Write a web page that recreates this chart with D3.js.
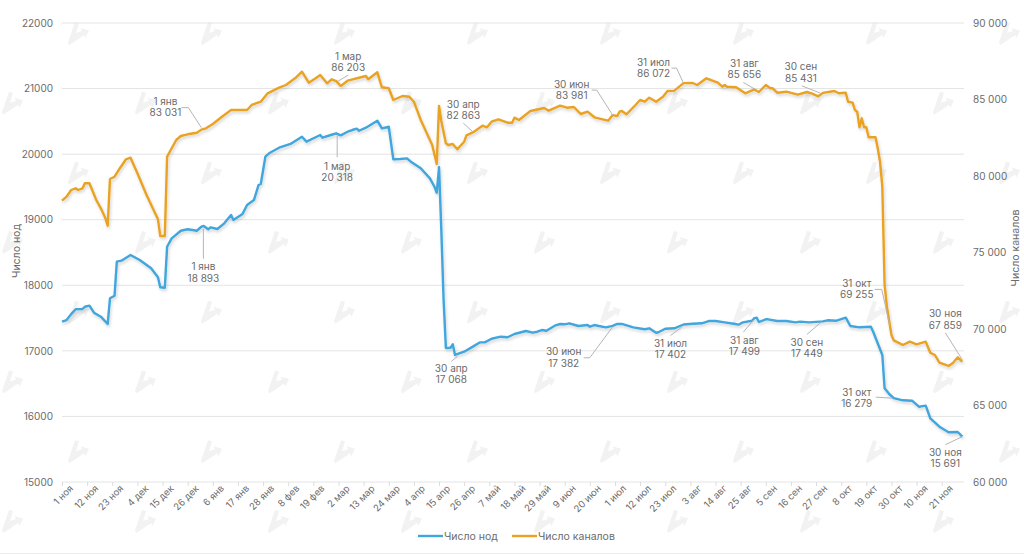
<!DOCTYPE html>
<html>
<head>
<meta charset="utf-8">
<script src="https://cdnjs.cloudflare.com/ajax/libs/d3/7.8.5/d3.min.js"></script>
<style>
  html, body { margin: 0; padding: 0; background: #fff; overflow: hidden; }
  text { font-family: Inter, "Noto Sans", sans-serif; fill: #6b6b6b; }
</style>
</head>
<body>
<script>
// days are counted from 1 Nov
const tickLabels = ['1 ноя', '12 ноя', '23 ноя', '4 дек', '15 дек', '26 дек', '6 янв', '17 янв', '28 янв',
  '8 фев', '19 фев', '2 мар', '13 мар', '24 мар', '4 апр', '15 апр', '26 апр', '7 май', '18 май', '29 май',
  '9 июн', '20 июн', '1 июл', '12 июл', '23 июл', '3 авг', '14 авг', '25 авг', '5 сен', '16 сен', '27 сен',
  '8 окт', '19 окт', '30 окт', '10 ноя', '21 ноя'];
const nodeTicks = [15000, 16000, 17000, 18000, 19000, 20000, 21000, 22000];
const channelTicks = [60000, 65000, 70000, 75000, 80000, 85000, 90000];

const nodeDays = [0, 2, 4, 6, 9, 10, 12, 14, 17, 20, 21, 23, 24, 26, 30, 34, 39, 42, 43, 45, 46, 48, 52, 55, 59, 61,
  62, 64, 65, 68, 71, 74, 75, 79, 81, 84, 86, 87, 89, 91, 95, 100, 105, 107, 111, 113, 114, 118, 120, 122, 125, 127,
  129, 130, 133, 138, 140, 143, 145, 148, 151, 153, 157, 161, 163, 164, 165, 166, 167, 168, 170, 171, 172, 176, 180,
  183, 185, 188, 192, 195, 198, 203, 206, 208, 210, 212, 216, 218, 220, 222, 226, 230, 231, 233, 235, 238, 241, 243,
  245, 250, 255, 257, 260, 261, 264, 268, 272, 276, 280, 283, 286, 290, 294, 296, 298, 302, 303, 304, 305, 308, 309,
  313, 317, 321, 323, 327, 333, 335, 339, 343, 345, 349, 354, 355, 359, 360, 362, 364, 368, 372, 375, 378, 380, 384,
  388, 392, 394];
const nodeValues = [17445, 17470, 17560, 17634, 17638, 17673, 17689, 17582, 17521, 17410, 17801, 17841, 18360, 18375,
  18462, 18386, 18259, 18122, 17969, 17963, 18588, 18716, 18832, 18854, 18832, 18893, 18904, 18854, 18884, 18858,
  18945, 19072, 18996, 19087, 19224, 19300, 19529, 19545, 19961, 20022, 20098, 20155, 20266, 20190, 20257, 20292,
  20251, 20296, 20318, 20287, 20342, 20368, 20388, 20357, 20403, 20510, 20394, 20418, 19921, 19926, 19936, 19875,
  19784, 19631, 19503, 19412, 19800, 18843, 17775, 17044, 17048, 17100, 16937, 16987, 17068, 17130, 17130, 17185,
  17216, 17207, 17257, 17303, 17277, 17292, 17318, 17307, 17390, 17410, 17405, 17420, 17379, 17394, 17368, 17394,
  17379, 17359, 17382, 17410, 17410, 17359, 17329, 17344, 17277, 17283, 17338, 17344, 17402, 17414, 17420, 17455,
  17455, 17435, 17414, 17399, 17435, 17460, 17499, 17506, 17440, 17481, 17481, 17455, 17455, 17435, 17445, 17435,
  17449, 17466, 17460, 17506, 17379, 17359, 17368, 17292, 16937, 16429, 16342, 16279, 16246, 16240, 16148, 16164,
  15971, 15843, 15758, 15763, 15691];

const channelDays = [0, 2, 4, 6, 7, 9, 10, 12, 15, 17, 19, 20, 21, 23, 25, 26, 28, 30, 33, 37, 42, 43, 45, 46, 48, 50,
  52, 55, 59, 61, 63, 66, 70, 74, 81, 83, 87, 90, 95, 98, 102, 105, 108, 111, 113, 116, 118, 120, 122, 125, 133, 134,
  138, 140, 143, 145, 149, 152, 154, 157, 162, 164, 165, 166, 168, 169, 171, 173, 176, 177, 180, 184, 186, 188, 191,
  195, 197, 198, 200, 205, 211, 213, 218, 221, 224, 227, 230, 233, 239, 241, 243, 244, 245, 247, 251, 253, 255, 257,
  260, 263, 265, 268, 272, 276, 278, 282, 287, 289, 290, 291, 295, 299, 303, 305, 308, 310, 311, 313, 317, 322, 326,
  328, 331, 333, 338, 340, 343, 344, 346, 347, 348, 349, 350, 351, 352, 353, 356, 357, 358, 359, 360, 361, 363, 364,
  368, 371, 374, 378, 380, 382, 384, 388, 390, 392, 394];
const channelValues = [78386, 78647, 79085, 79196, 79085, 79196, 79523, 79523, 78432, 77889, 77235, 76752, 79804,
  79954, 80438, 80654, 81092, 81196, 80177, 78758, 77170, 76079, 76079, 81262, 81811, 82353, 82615, 82726, 82830,
  83031, 83118, 83399, 83876, 84314, 84314, 84641, 84856, 85405, 85772, 85948, 86386, 86817, 86098, 86386, 86602,
  86059, 86320, 86203, 85883, 86229, 86536, 86320, 86778, 85798, 85732, 84968, 85229, 85183, 84856, 83660, 82026,
  80784, 84575, 83595, 82137, 82026, 82092, 81745, 82242, 82660, 82863, 83288, 83183, 83549, 83706, 83484, 83484,
  83811, 83660, 84249, 84445, 84268, 84595, 84464, 84510, 84052, 84203, 83837, 83614, 83981, 83922, 84203, 84249,
  84033, 84641, 84968, 84856, 85118, 84856, 85183, 85556, 85575, 86072, 86079, 85948, 86386, 86098, 85837, 85948,
  85837, 85798, 85405, 85656, 85490, 85948, 85732, 85732, 85444, 85510, 85314, 85490, 85405, 85209, 85431, 85556,
  85405, 85444, 84856, 84791, 84314, 84203, 83183, 83771, 83183, 83183, 82530, 82530, 81811, 80935, 79301, 72876,
  71458, 69608, 69255, 68954, 69170, 69000, 69170, 68451, 68301, 67797, 67582, 67797, 68150, 67859];

const calloutDays = [61, 120, 180, 241, 272, 303, 333, 364, 394];
const calloutDates = ['1 янв', '1 мар', '30 апр', '30 июн', '31 июл', '31 авг', '30 сен', '31 окт', '30 ноя'];
const channelCalloutValues = [83031, 86203, 82863, 83981, 86072, 85656, 85431, 69255, 67859];
const nodeCalloutValues = [18893, 20318, 17068, 17382, 17402, 17499, 17449, 16279, 15691];

// label offset and leader line relative to the callout's data point
const channelCalloutLayout = [
  { text: [-36, -28], leader: [[-20, -22], [-13, -22], [0, -2]] },
  { text: [12, -25], leader: [[2, 0], [12, -6]] },
  { text: [-10, -28], leader: [[-10, -9], [0, 0]] },
  { text: [-41, -31], leader: [[-21, -25], [-16, -25], [0, 0]] },
  { text: [-30, -21], leader: [[-12, -15], [-7, -15], [0, 0]] },
  { text: [-10, -26], leader: [[-11, -7], [1, 0]] },
  { text: [-22, -26], leader: [[-21, -7], [-3, 0]] },
  { text: [-37, -57], leader: [[-19, -51], [-12, -51], [-4, -15]] },
  { text: [-17, -48], leader: [[-17, -29], [0, -2]] },
];
const nodeCalloutLayout = [
  { text: [2, 40], leader: [[2, 2], [2, 32]] },
  { text: [1, 33], leader: [[1, 2], [1, 24]] },
  { text: [-22, 22], leader: [[-22, 15], [-16, 10]] },
  { text: [-49, 26], leader: [[-29, 32], [-23, 32], [0, 1]] },
  { text: [-13, 19], leader: [[-13, 11], [-1, 2]] },
  { text: [-10, 22], leader: [[-11, 14], [-1, 2]] },
  { text: [-16, 21], leader: [[-16, 13], [-2, 1]] },
  { text: [-37, -6], leader: [[-18, -1], [-2, 0]] },
  { text: [-17, 16], leader: [[-17, 8], [0, 0]] },
];

const BLUE = '#3fa6dd';
const ORANGE = '#e9a223';
const width = 1024;
const height = 554;
const spaced = n => d3.format(',')(n).replace(/,/g, ' ');

function watermarks(svg) {
  const rows = d3.range(8);
  const cols = d3.range(8);
  svg.append('g')
    .selectAll('path')
    .data(d3.cross(rows, cols))
    .enter()
    .append('path')
    .attr('d', 'M7 0L11 1L8 11L14 9L12.500 6L21 8.500L17.500 16L16 13L6 20L1 23L0 20.500Z')
    .attr('transform', ([r, c]) => `translate(${(r % 2 ? 2 : 68) + c * 133},${22 + r * 69.700})`)
    .attr('fill', '#f2f2f2');
}

function callouts(svg, x, y, values, layout) {
  const g = svg.append('g');
  const line = d3.line();
  calloutDays.forEach((day, i) => {
    const px = x(day);
    const py = y(values[i]);
    const { text, leader } = layout[i];
    g.append('path')
      .attr('d', line(leader.map(p => [px + p[0], py + p[1]])))
      .attr('fill', 'none')
      .attr('stroke', '#b5b5b5')
      .attr('stroke-width', 1);
    const label = g.append('text')
      .attr('text-anchor', 'middle')
      .attr('font-size', 10)
      .attr('x', px + text[0])
      .attr('y', py + text[1] + 3.500);
    label.append('tspan').text(calloutDates[i]);
    label.append('tspan')
      .attr('x', px + text[0])
      .attr('dy', 11.300)
      .text(spaced(values[i]));
  });
}

function main() {
  const svg = d3.select('body').append('svg')
    .attr('width', width)
    .attr('height', height);

  const shadow = svg.append('defs').append('filter')
    .attr('id', 'soft')
    .attr('x', '-5%').attr('y', '-5%')
    .attr('width', '110%').attr('height', '110%');
  shadow.append('feDropShadow')
    .attr('dx', 1).attr('dy', 2)
    .attr('stdDeviation', 1.500)
    .attr('flood-color', '#000')
    .attr('flood-opacity', 0.18);

  watermarks(svg);

  const x = d3.scaleLinear().domain([0, 394]).range([62, 962.300]);
  const yNodes = d3.scaleLinear().domain([15000, 22000]).range([482, 23]);
  const yChannels = d3.scaleLinear().domain([60000, 90000]).range([482, 23]);

  svg.append('g')
    .selectAll('line')
    .data(nodeTicks)
    .enter()
    .append('line')
    .attr('x1', 62)
    .attr('x2', 964)
    .attr('y1', d => yNodes(d))
    .attr('y2', d => yNodes(d))
    .attr('stroke', '#e4e4e4');

  const xAxis = d3.axisBottom(x)
    .tickValues(tickLabels.map((_, i) => i * 11))
    .tickFormat((_, i) => tickLabels[i])
    .tickSize(4)
    .tickPadding(2);
  const xg = svg.append('g').attr('transform', 'translate(0,482)').call(xAxis);
  xg.select('.domain').remove();
  xg.selectAll('line').attr('stroke', '#dcdcdc');
  xg.selectAll('text')
    .attr('font-size', 9.500)
    .attr('font-family', null)
    .attr('text-anchor', 'end')
    .attr('dx', 3)
    .attr('dy', 7)
    .attr('transform', 'rotate(-45)');

  const leftAxis = d3.axisLeft(yNodes)
    .tickValues(nodeTicks)
    .tickFormat(d3.format('d'))
    .tickSize(0)
    .tickPadding(9);
  const lg = svg.append('g').attr('transform', 'translate(62,0)').call(leftAxis);
  lg.select('.domain').remove();
  lg.selectAll('text').attr('font-size', 10).attr('font-family', null);

  const rightAxis = d3.axisRight(yChannels)
    .tickValues(channelTicks)
    .tickFormat(spaced)
    .tickSize(0)
    .tickPadding(11);
  const rg = svg.append('g').attr('transform', 'translate(962,0)').call(rightAxis);
  rg.select('.domain').remove();
  rg.selectAll('text').attr('font-size', 10).attr('font-family', null);

  const series = [
    { days: channelDays, values: channelValues, y: yChannels, color: ORANGE },
    { days: nodeDays, values: nodeValues, y: yNodes, color: BLUE },
  ];
  series.forEach((s) => {
    const path = d3.line()
      .x(d => x(d))
      .y((d, i) => s.y(s.values[i]));
    svg.append('path')
      .attr('d', path(s.days))
      .attr('fill', 'none')
      .attr('stroke', s.color)
      .attr('stroke-width', 2.400)
      .attr('stroke-linejoin', 'round')
      .attr('filter', 'url(#soft)');
  });

  callouts(svg, x, yChannels, channelCalloutValues, channelCalloutLayout);
  callouts(svg, x, yNodes, nodeCalloutValues, nodeCalloutLayout);

  svg.append('text')
    .attr('transform', 'translate(20,251) rotate(-90)')
    .attr('text-anchor', 'middle')
    .attr('font-size', 10.500)
    .text('Число нод');
  svg.append('text')
    .attr('transform', 'translate(1019,248) rotate(-90)')
    .attr('text-anchor', 'middle')
    .attr('font-size', 10.500)
    .text('Число каналов');

  const legend = [
    { name: 'Число нод', color: BLUE, x: 418 },
    { name: 'Число каналов', color: ORANGE, x: 512 },
  ];
  legend.forEach((d) => {
    svg.append('line')
      .attr('x1', d.x).attr('x2', d.x + 25)
      .attr('y1', 536).attr('y2', 536)
      .attr('stroke', d.color)
      .attr('stroke-width', 2.400);
    svg.append('text')
      .attr('x', d.x + 26)
      .attr('y', 540)
      .attr('font-size', 10.500)
      .text(d.name);
  });

  svg.append('line')
    .attr('x1', 0).attr('x2', width)
    .attr('y1', 553.500).attr('y2', 553.500)
    .attr('stroke', '#ececec');
}

main();
</script>
</body>
</html>
